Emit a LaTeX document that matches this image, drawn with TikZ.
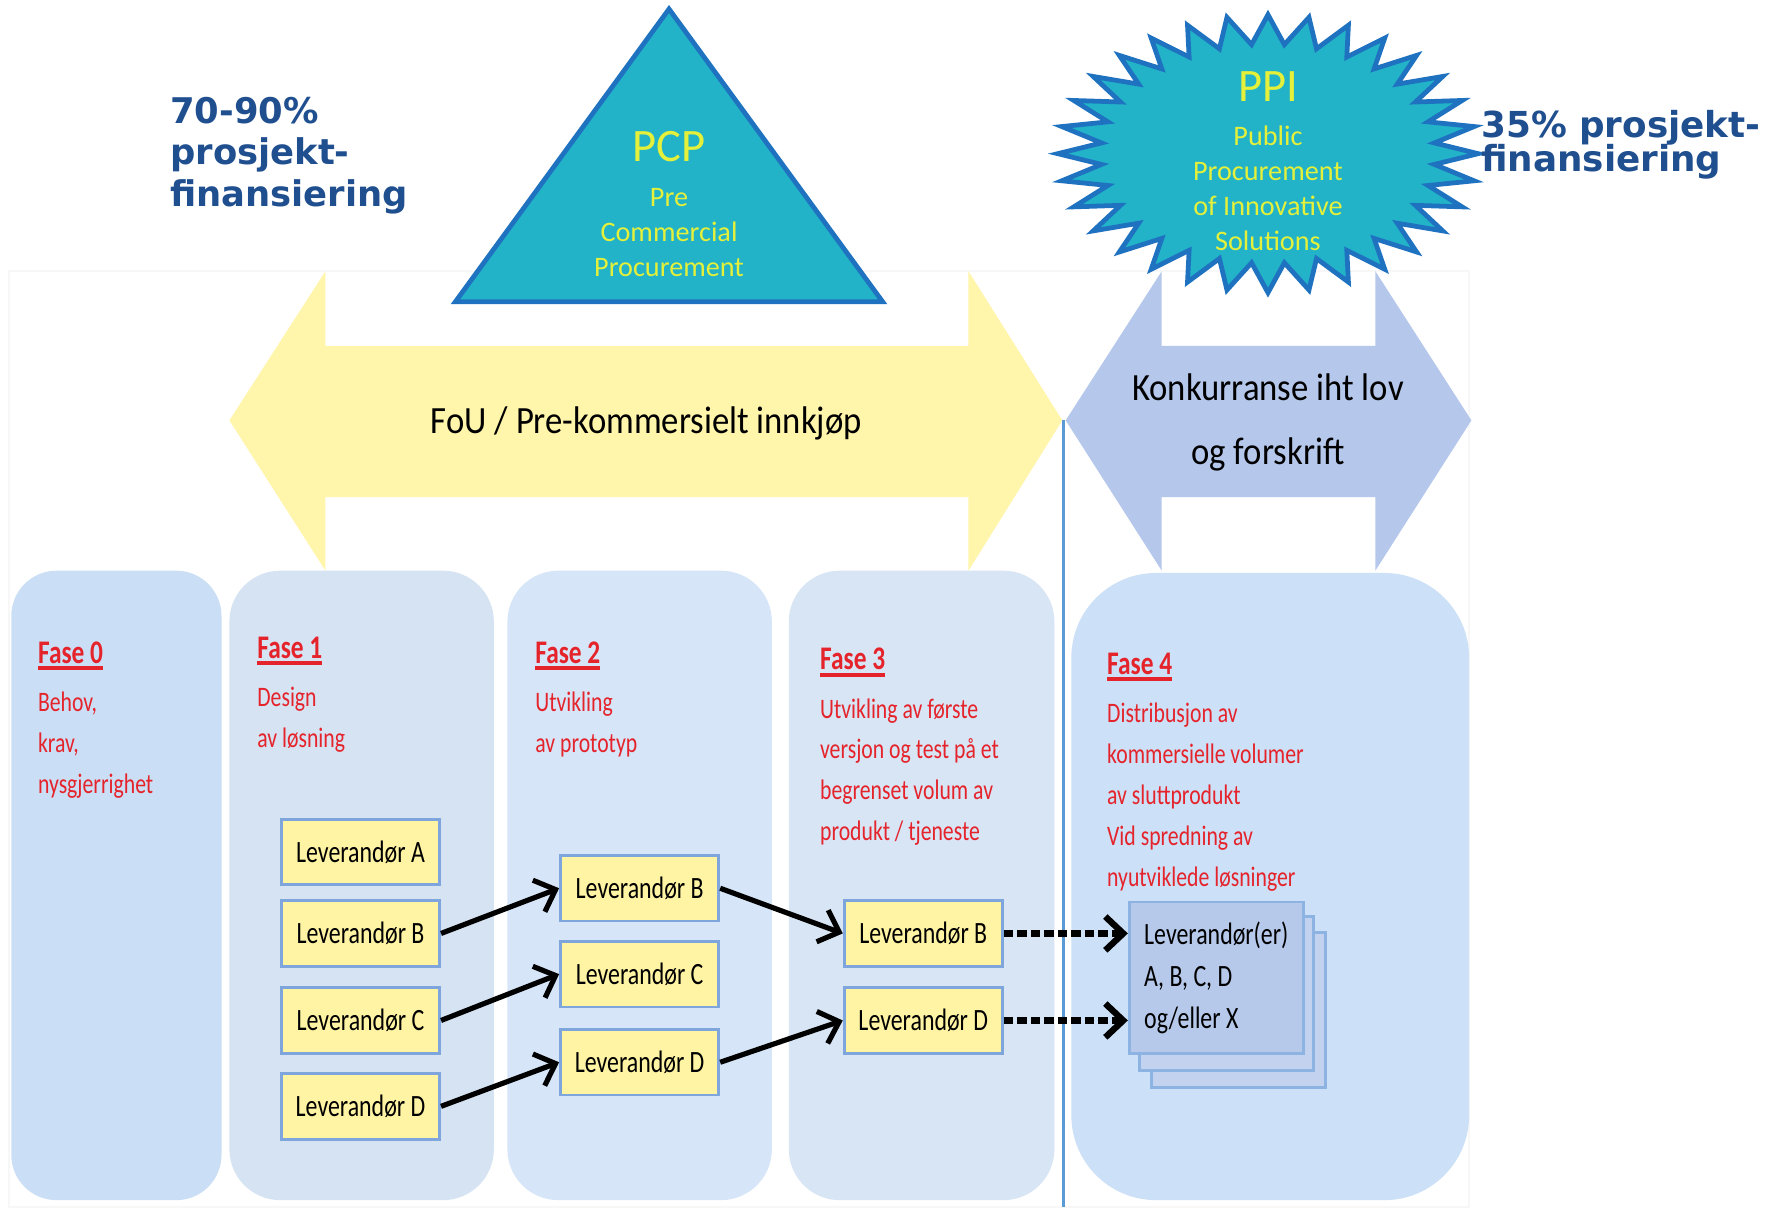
\documentclass[tikz,border=0pt]{standalone}
\usepackage{fontspec}
\setmainfont{Carlito}
\newfontfamily\narrowfont[FakeStretch=0.77]{Carlito}
\newfontfamily\arrowfont[FakeStretch=0.9]{Carlito}
\newfontfamily\verdfont{DejaVu Sans}
\usetikzlibrary{arrows.meta}

\definecolor{pcpteal}{HTML}{22B3C9}
\definecolor{pcpedge}{HTML}{1F72C0}
\definecolor{pcpyellow}{HTML}{E4F03A}
\definecolor{fundblue}{HTML}{1F4F8F}
\definecolor{fasered}{HTML}{E5232B}
\definecolor{fouyellow}{HTML}{FFF5AB}
\definecolor{lawblue}{HTML}{B5C7EA}
\definecolor{lineblue}{HTML}{5B9BD5}
\definecolor{boxyellow}{HTML}{FFF4A4}
\definecolor{boxedge}{HTML}{7EA6DC}
\definecolor{stackfront}{HTML}{B6C9EB}
\definecolor{stackback}{HTML}{C2D2EF}
\definecolor{stackedge}{HTML}{8DB3E2}

\newcommand{\fasehead}[1]{\vtop{\hbox{\fontsize{8.3}{10.3}\selectfont\bfseries #1}\kern0.7pt\hrule height 0.9pt}}

\begin{document}
\begin{tikzpicture}[x=0.01cm,y=-0.01cm,
			pcp shape/.style={draw=pcpedge,fill=pcpteal,line width=1.2pt,line join=miter},
			pcp text/.style={text=pcpyellow,align=center,font=\fontsize{7.1}{8.8}\selectfont},
			fund text/.style={text=fundblue,align=left,anchor=north west,inner sep=0pt},
			phase text/.style={text=fasered,align=left,anchor=north west,inner sep=0pt,font=\narrowfont\fontsize{7.1}{10.3}\selectfont},
			supplier node/.style={draw=boxedge,fill=boxyellow,line width=0.7pt,minimum width=1.40cm,minimum height=0.58cm,inner sep=0pt,font=\narrowfont\fontsize{7.8}{9}\selectfont},
			stack sheet/.style={draw=stackedge,fill=stackback,line width=0.7pt},
			flow arrow/.style={draw=black,line width=1.3pt,-{Straight Barb[length=4.5pt,width=8.5pt]}},
			offer arrow/.style={flow arrow,line width=1.6pt,dash pattern=on 2.4pt off 1pt}
			]
			
			\useasboundingbox (0,0) rectangle (1568,1071);
			
			\draw[fill=white,draw=black!3] (8,240) rectangle (1300,1068);
			
			\fill[fouyellow] (203,372) -- (288,240) -- (288,306) -- (857,306) -- (857,240) -- (940,372)
				-- (857,505) -- (857,440) -- (288,440) -- (288,505) -- cycle;
			\fill[lawblue] (943,372) -- (1028,240) -- (1028,306) -- (1217,306) -- (1217,240) -- (1302,372)
				-- (1217,505) -- (1217,440) -- (1028,440) -- (1028,505) -- cycle;
			\node[font=\arrowfont\fontsize{9.7}{11}\selectfont] (fou) at (572,375) {FoU / Pre-kommersielt innkjøp};
			\node[align=center,font=\arrowfont\fontsize{9.7}{16.2}\selectfont] (law) at (1122,374) {Konkurranse iht lov\\og forskrift};
			
			\draw[pcp shape] (592,8) -- (781,267) -- (403,267) -- cycle;
			\node[pcp text,font=\fontsize{11.7}{13}\selectfont] (pcp) at (592,130) {PCP};
			\node[pcp text] (pcptext) at (592,206) {Pre\\Commercial\\Procurement};
			
			\draw[pcp shape] plot[domain=0:63,samples=64,variable=\k]
				({1122+(186-38*mod(\k,2))*cos(90+\k*5.625)},{136-(123-26*mod(\k,2))*sin(90+\k*5.625)}) -- cycle;
			\node[pcp text,font=\fontsize{11.7}{13}\selectfont] (ppi) at (1122,77) {PPI};
			\node[pcp text] (ppitext) at (1122,167) {Public\\Procurement\\of Innovative\\Solutions};
			
			\node[fund text,font=\verdfont\bfseries\fontsize{8.9}{10.5}\selectfont] (pcpfund) at (150,85) {70-90\%\\prosjekt-\\finansiering};
			\node[fund text,font=\verdfont\bfseries\fontsize{9.0}{8.5}\selectfont] (ppifund) at (1310,97) {35\% prosjekt-\\[-1.3pt]finansiering};
			
			\fill[fill={rgb,255:red,202;green,223;blue,245},rounded corners=0.4cm] (10,505) rectangle (196,1062);
			\fill[fill={rgb,255:red,214;green,227;blue,243},rounded corners=0.45cm] (203,505) rectangle (437,1062);
			\fill[fill={rgb,255:red,214;green,230;blue,248},rounded corners=0.45cm] (449,505) rectangle (683,1062);
			\fill[fill={rgb,255:red,216;green,229;blue,244},rounded corners=0.45cm] (698,505) rectangle (933,1062);
			\fill[fill={rgb,255:red,204;green,225;blue,247},rounded corners=0.75cm] (948,507) rectangle (1300,1062);
			
			\draw[lineblue,line width=0.9pt] (941,372) -- (941,1068);
			
			\node[phase text] (fase0) at (33,567) {\fasehead{Fase 0}\\[1.8pt]Behov,\\krav,\\nysgjerrighet};
			\node[phase text] (fase1) at (227,563) {\fasehead{Fase 1}\\[1.8pt]Design\\av løsning};
			\node[phase text] (fase2) at (473,567) {\fasehead{Fase 2}\\[1.8pt]Utvikling\\av prototyp};
			\node[phase text] (fase3) at (725,573) {\fasehead{Fase 3}\\[1.8pt]Utvikling av første\\versjon og test på et\\begrenset volum av\\produkt / tjeneste};
			\node[phase text] (fase4) at (979,577) {\fasehead{Fase 4}\\[1.8pt]Distribusjon av\\kommersielle volumer\\av sluttprodukt\\Vid spredning av\\nyutviklede løsninger};
			
			\foreach \s/\y in {A/754,B/826,C/903,D/979}
				\node[supplier node] (f1\s) at (319,\y) {Leverandør \s};
			\foreach \s/\y in {B/786,C/862,D/940}
				\node[supplier node] (f2\s) at (566,\y) {Leverandør \s};
			\foreach \s/\y in {B/826,D/903}
				\node[supplier node] (f3\s) at (817,\y) {Leverandør \s};
			
			\draw[stack sheet] (1019,825) rectangle (1173,962);
			\draw[stack sheet] (1008,811) rectangle (1162,947);
			\node[stack sheet,fill=stackfront,anchor=north west,minimum width=1.54cm,minimum height=1.34cm,
				align=left,font=\narrowfont\fontsize{7.8}{10.6}\selectfont] (f4) at (998,797) {Leverandør(er)\\A, B, C, D\\og/eller X};
			
			\foreach \a/\b in {f1B/f2B,f1C/f2C,f1D/f2D,f2B/f3B,f2D/f3D}
				\draw[flow arrow] (\a.east) -- (\b.west);
			\foreach \a in {f3B,f3D}
				\draw[offer arrow] (\a.east) -- (\a.east -| f4.west);
			
\end{tikzpicture}
\end{document}
